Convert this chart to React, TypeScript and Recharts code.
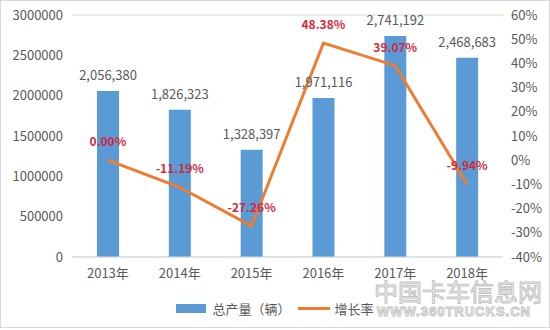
import { ComposedChart, Bar, Line, XAxis, YAxis, CartesianGrid, Legend, LabelList } from 'recharts';

const years = ['2013年', '2014年', '2015年', '2016年', '2017年', '2018年'];
const production = [2056380, 1826323, 1328397, 1971116, 2741192, 2468683];
const growth = [0.0, -11.19, -27.26, 48.38, 39.07, -9.94];
const leftTicks = [0, 500000, 1000000, 1500000, 2000000, 2500000, 3000000];
const rightTicks = [-40, -30, -20, -10, 0, 10, 20, 30, 40, 50, 60];

const data = years.map((year, i) => ({ year, production: production[i], growth: growth[i] }));

const FONT = '"Noto Sans CJK SC", "Noto Sans", sans-serif';
const TEXT = '#595959';

function ChartLegend() {
  return (
    <div
      style={{
        display: 'flex',
        justifyContent: 'center',
        alignItems: 'center',
        paddingTop: 12,
        fontFamily: FONT,
        fontSize: 13,
        color: TEXT,
      }}
    >
      <span style={{ display: 'inline-block', width: 30, height: 9, background: '#5B9BD5', marginRight: 6 }} />
      <span>总产量（辆）</span>
      <span style={{ display: 'inline-block', width: 32, height: 3, background: '#ED7D31', marginLeft: 7, marginRight: 5 }} />
      <span>增长率</span>
    </div>
  );
}

export default function App() {
  return (
    <div
      style={{
        position: 'fixed',
        left: 0,
        top: 0,
        width: 550,
        height: 330,
        background: '#fff',
        fontFamily: FONT,
      }}
    >
      <ComposedChart width={550} height={330} data={data} margin={{ top: 15, right: 0, left: 0, bottom: 13 }}>
        <CartesianGrid stroke="#D9D9D9" vertical={false} />
        <XAxis
          dataKey="year"
          height={30}
          tickLine={false}
          axisLine={{ stroke: '#D9D9D9' }}
          tickMargin={6}
          tick={{ fill: TEXT, fontSize: 13, fontFamily: FONT }}
        />
        <YAxis
          yAxisId="left"
          width={72}
          domain={[0, 3000000]}
          ticks={leftTicks}
          tickLine={false}
          axisLine={false}
          tickMargin={3}
          tick={{ fill: TEXT, fontSize: 13, fontFamily: FONT }}
        />
        <YAxis
          yAxisId="right"
          orientation="right"
          width={47}
          domain={[-40, 60]}
          ticks={rightTicks}
          tickLine={false}
          axisLine={false}
          tickMargin={2}
          tickFormatter={(v: number) => `${v}%`}
          tick={{ fill: TEXT, fontSize: 13, fontFamily: FONT, textAnchor: 'start' }}
        />
        <Legend verticalAlign="bottom" height={30} content={() => <ChartLegend />} />
        <Bar yAxisId="left" dataKey="production" fill="#5B9BD5" barSize={22} isAnimationActive={false}>
          <LabelList
            dataKey="production"
            position="top"
            offset={11}
            formatter={(v: any) => Number(v).toLocaleString('en-US')}
            style={{ fill: TEXT, fontSize: 13, fontFamily: FONT }}
          />
        </Bar>
        <Line
          yAxisId="right"
          type="linear"
          dataKey="growth"
          stroke="#ED7D31"
          strokeWidth={3}
          dot={false}
          activeDot={false}
          isAnimationActive={false}
        >
          <LabelList
            dataKey="growth"
            position="top"
            offset={14}
            formatter={(v: any) => `${Number(v).toFixed(2)}%`}
            style={{ fill: '#D42A3C', fontSize: 12, fontWeight: 700, fontFamily: FONT }}
          />
        </Line>
      </ComposedChart>
      <div
        style={{
          position: 'absolute',
          left: 0,
          top: 0,
          width: 548,
          height: 326,
          border: '1px solid #D9D9D9',
          pointerEvents: 'none',
        }}
      />
      <div
        style={{
          position: 'absolute',
          left: 374,
          top: 278,
          fontSize: 24,
          color: 'rgba(245,245,245,0.85)',
          WebkitTextStroke: '1px #C4C4C4',
          fontFamily: FONT,
          lineHeight: '26px',
        }}
      >
        中国卡车信息网
      </div>
      <div
        style={{
          position: 'absolute',
          left: 377,
          top: 304,
          fontSize: 13,
          fontWeight: 700,
          letterSpacing: 1,
          color: 'rgba(245,245,245,0.85)',
          WebkitTextStroke: '1px #C4C4C4',
          fontFamily: '"Liberation Sans", sans-serif',
          lineHeight: '15px',
          whiteSpace: 'nowrap',
        }}
      >
        WWW.360TRUCKS.CN
      </div>
    </div>
  );
}
